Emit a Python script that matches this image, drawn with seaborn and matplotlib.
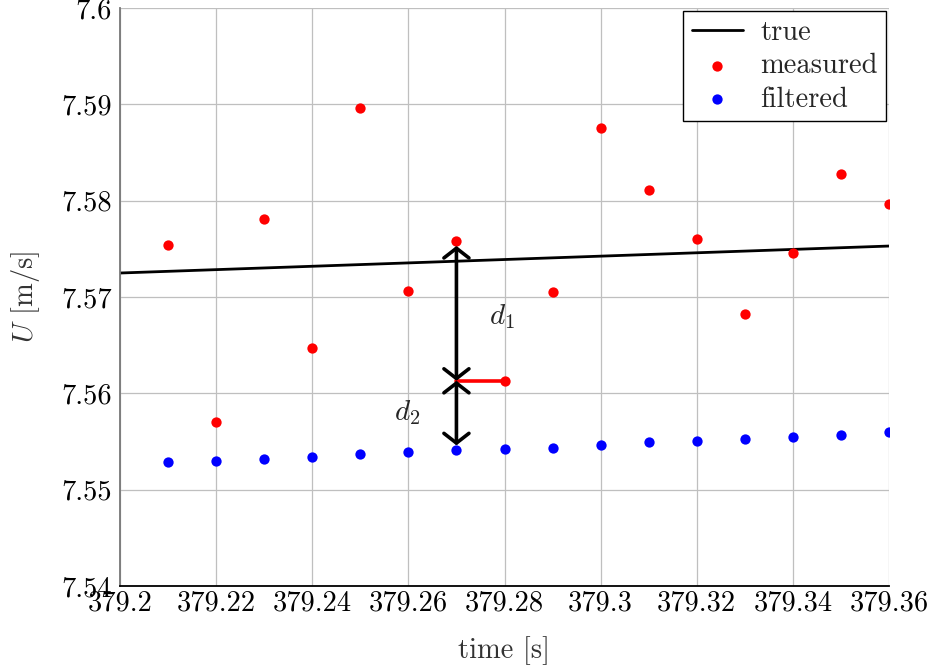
import numpy as np
import pandas as pd
import matplotlib
matplotlib.use("Agg")
import matplotlib.pyplot as plt
import seaborn as sns
from matplotlib.ticker import FuncFormatter, MultipleLocator

# ---- data ----
time = [379.21, 379.22, 379.23, 379.24, 379.25, 379.26, 379.27, 379.28,
        379.29, 379.30, 379.31, 379.32, 379.33, 379.34, 379.35, 379.36]
measured = [7.5754, 7.5570, 7.5781, 7.5647, 7.5896, 7.5706, 7.5758, 7.5613,
            7.5705, 7.5875, 7.5811, 7.5760, 7.5682, 7.5746, 7.5828, 7.5797]
filtered = [7.5529, 7.5530, 7.5532, 7.5534, 7.5537, 7.5539, 7.5541, 7.5542,
            7.5543, 7.5546, 7.5549, 7.5551, 7.5553, 7.5555, 7.5557, 7.5560]
true_t = [379.20, 379.36]
true_u = [7.57249, 7.57529]

sns.set_theme(style="whitegrid")
plt.rcParams["font.family"] = "serif"
plt.rcParams["font.serif"] = ["cmr10"]
plt.rcParams["mathtext.fontset"] = "cm"
plt.rcParams["axes.formatter.use_mathtext"] = True

FS = 20.5

fig = plt.figure(figsize=(9.32, 6.68), dpi=100)
ax = fig.add_axes([120/932, 1-586/668, (889-120)/932, (586-8)/668])

df_true = pd.DataFrame({"t": true_t, "u": true_u})
df_m = pd.DataFrame({"t": time, "u": measured})
df_f = pd.DataFrame({"t": time, "u": filtered})

sns.lineplot(data=df_true, x="t", y="u", ax=ax, color="black", lw=2, label="true")
sns.scatterplot(data=df_m, x="t", y="u", ax=ax, color="red", s=55, linewidth=0,
                label="measured", zorder=4)
sns.scatterplot(data=df_f, x="t", y="u", ax=ax, color="blue", s=55, linewidth=0,
                label="filtered", zorder=4)

# annotations
i = 6
arrowprops = dict(arrowstyle="<->,head_length=0.35,head_width=0.45", lw=2.6,
                  color="black", shrinkA=0, shrinkB=0, mutation_scale=20)
ax.annotate("", xy=(time[i], measured[i] - 0.0005), xytext=(time[i], measured[i+1]),
            arrowprops=arrowprops, zorder=5)
ax.annotate("", xy=(time[i], measured[i+1]), xytext=(time[i], filtered[i] + 0.0005),
            arrowprops=arrowprops, zorder=5)
ax.plot([time[i], time[i+1]], [measured[i+1], measured[i+1]], color="red", lw=2.6, zorder=3)
ax.text(379.2795, 7.5680, "$d_1$", fontsize=21, ha="center", va="center")
ax.text(379.2597, 7.5580, "$d_2$", fontsize=21, ha="center", va="center")

ax.set_xlim(379.2, 379.36)
ax.set_ylim(7.54, 7.6)
ax.xaxis.set_major_locator(MultipleLocator(0.02))
ax.yaxis.set_major_locator(MultipleLocator(0.01))
ax.xaxis.set_major_formatter(FuncFormatter(lambda v, p: f"{round(v, 4):g}"))
ax.yaxis.set_major_formatter(FuncFormatter(lambda v, p: f"{round(v, 4):g}"))
ax.tick_params(labelsize=FS, length=0, colors="black")
ax.tick_params(axis="x", pad=3)
ax.tick_params(axis="y", pad=6)
ax.set_xlabel("time [s]", fontsize=FS, color="#333333", labelpad=14)
ax.set_ylabel("$U$ [m/s]", fontsize=FS, color="#333333", labelpad=14)
ax.grid(True, color="#bfbfbf", lw=0.9)
for s in ["top", "right"]:
    ax.spines[s].set_visible(False)
ax.spines["bottom"].set_color("black")
ax.spines["bottom"].set_linewidth(1.3)
ax.spines["left"].set_color("#777777")
ax.spines["left"].set_linewidth(1.3)

leg = ax.legend(loc="upper right", fontsize=FS, frameon=True, fancybox=False,
                edgecolor="black", framealpha=1, borderaxespad=0.1,
                handlelength=1.8, labelspacing=0.25, borderpad=0.3, handletextpad=0.6)
leg.get_frame().set_linewidth(1.0)

fig.savefig("out.png", dpi=100)
